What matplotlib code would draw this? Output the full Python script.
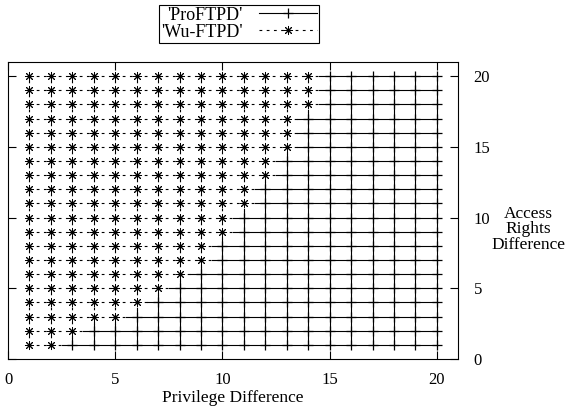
import numpy as np
import matplotlib.pyplot as plt
from matplotlib.lines import Line2D

plt.rcParams['font.family'] = ['Liberation Serif', 'DejaVu Serif']
plt.rcParams['font.size'] = 12

# grid of the two surfaces seen from above
priv = list(range(1, 21))      # Privilege Difference
rights = list(range(1, 21))    # Access Rights Difference
# last privilege value (per access-rights row) where Wu-FTPD lies on top
wu_last = [2, 3, 5, 6, 7, 8, 9, 9, 10, 10, 11, 11, 12, 12, 13, 13, 13, 14, 14, 14]

xticks = [0, 5, 10, 15, 20]
yticks = [0, 5, 10, 15, 20]

pro_style = dict(color='black', lw=0.8, ls='-')
wu_style = dict(color='black', lw=0.8, ls=(0, (2.5, 4)))
wu_marker = (8, 2, 0)


def is_wu(x, y):
    return x <= wu_last[rights.index(y)]


def draw_edge(ax, p, q):
    a, b = is_wu(*p), is_wu(*q)
    if a == b:
        ax.plot([p[0], q[0]], [p[1], q[1]], **(wu_style if a else pro_style))
    else:
        m = ((p[0] + q[0]) / 2, (p[1] + q[1]) / 2)
        ax.plot([p[0], m[0]], [p[1], m[1]], **(wu_style if a else pro_style))
        ax.plot([m[0], q[0]], [m[1], q[1]], **(wu_style if b else pro_style))


fig = plt.figure(figsize=(5.69, 4.11), dpi=100)
ax = fig.add_axes([0.0141, 0.1265, 0.7913, 0.7225])

for y in rights:
    for i in range(len(priv) - 1):
        draw_edge(ax, (priv[i], y), (priv[i + 1], y))
for x in priv:
    for j in range(len(rights) - 1):
        draw_edge(ax, (x, rights[j]), (x, rights[j + 1]))

wx, wy, px, py = [], [], [], []
for y in rights:
    for x in priv:
        if is_wu(x, y):
            wx.append(x); wy.append(y)
        else:
            px.append(x); py.append(y)
ax.plot(px, py, ls='none', marker='+', ms=6.5, mew=0.9, color='black')
ax.plot(wx, wy, ls='none', marker=wu_marker, ms=6.5, mew=0.7, color='black')

ax.set_xlim(0, 21)
ax.set_ylim(0, 21)
ax.set_xticks(xticks)
ax.set_yticks(yticks)
ax.tick_params(direction='in', length=6, width=0.8, top=True, right=True,
               labelleft=False, labelright=True)
ax.tick_params(axis='x', pad=9)
ax.tick_params(axis='y', pad=11)
for s in ax.spines.values():
    s.set_linewidth(0.8)

fig.text(0.409, 0.032, 'Privilege Difference', ha='center', va='center',
         fontsize=12.5)
fig.text(0.928, 0.442, 'Access\nRights\nDifference', ha='center', va='center',
         linespacing=0.95, fontsize=12.5)

handles = [Line2D([], [], marker='+', ms=6.5, mew=0.9, **pro_style),
           Line2D([], [], marker=wu_marker, ms=6.5, mew=0.7, **wu_style)]
leg = fig.legend(handles, ["'ProFTPD'", "'Wu-FTPD'"], loc='upper center',
                 bbox_to_anchor=(0.42, 0.988), markerfirst=False, fancybox=False,
                 edgecolor='black', framealpha=1, handlelength=3.2,
                 borderpad=0.1, labelspacing=0.0, handletextpad=0.9,
                 borderaxespad=0, fontsize=13)
leg.get_frame().set_linewidth(0.8)

fig.savefig('out.png', dpi=100)
